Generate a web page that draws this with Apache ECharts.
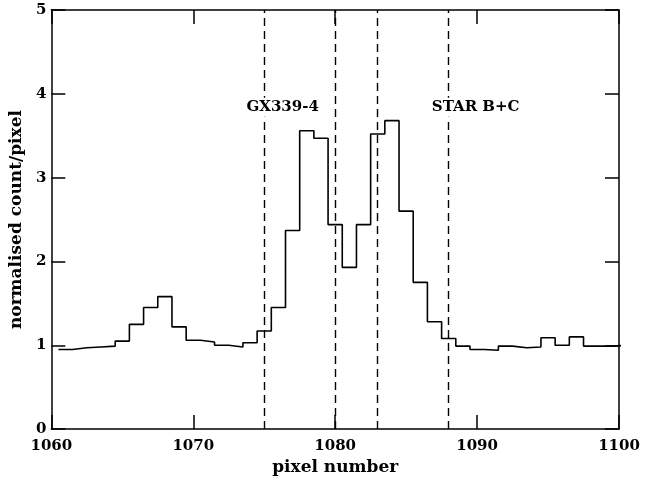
<!DOCTYPE html>
<html><head><meta charset="utf-8">
<script src="https://cdn.jsdelivr.net/npm/echarts@6/dist/echarts.min.js"></script>
<style>html,body{margin:0;padding:0;background:#fff}#c{width:658px;height:481px}</style>
</head><body><div id="c"></div>
<script>
// Bin centres (pixel number) and normalised counts
var binCentres = [1061,1062,1063,1064,1065,1066,1067,1068,1069,1070,
                  1071,1072,1073,1074,1075,1076,1077,1078,1079,1080,
                  1081,1082,1083,1084,1085,1086,1087,1088,1089,1090,
                  1091,1092,1093,1094,1095,1096,1097,1098,1099,1100];
var counts = [0.95,0.97,0.98,0.99,1.05,1.25,1.45,1.58,1.22,1.06,
              1.04,1.00,0.98,1.03,1.17,1.45,2.37,3.56,3.47,2.44,
              1.93,2.44,3.52,3.68,2.60,1.75,1.28,1.08,0.99,0.95,
              0.94,0.99,0.97,0.98,1.09,1.00,1.10,0.99,0.99,1.00];
var dashedLinesX = [1075,1080,1083,1088];
var annotations = [
  {name:'GX339-4', x:1076.3, y:3.84},
  {name:'STAR B+C', x:1089.9, y:3.84}
];
var xTicks = {min:1060, max:1100, interval:10};
var yTicks = {min:0, max:5, interval:1};

// build step outline: each bin from centre-0.5 to centre+0.5
var stepPts = [];
for (var i=0;i<binCentres.length;i++){ stepPts.push([binCentres[i]-0.5, counts[i]]); }
stepPts.push([binCentres[binCentres.length-1]+0.5, counts[counts.length-1]]);

var font = 'DejaVu Serif';
var axisLineStyle = {color:'#000', width:1.5};
function xAxisDef(pos, showLabel){
  return {type:'value', position:pos, min:xTicks.min, max:xTicks.max, interval:xTicks.interval,
    axisLine:{show:true, onZero:false, lineStyle:axisLineStyle},
    axisTick:{show:true, inside:true, length:14, lineStyle:{color:'#000', width:1.5}},
    splitLine:{show:false},
    axisLabel:{show:showLabel, color:'#000', fontFamily:font, fontSize:15, fontWeight:'bold', margin:10,
      formatter:function(v){return String(v);}},
    name: showLabel ? 'pixel number' : '', nameLocation:'middle', nameGap:27,
    nameTextStyle:{color:'#000', fontFamily:font, fontSize:17, fontWeight:'bold'}};
}
function yAxisDef(pos, showLabel){
  return {type:'value', position:pos, min:yTicks.min, max:yTicks.max, interval:yTicks.interval,
    axisLine:{show:true, onZero:false, lineStyle:axisLineStyle},
    axisTick:{show:true, inside:true, length:14, lineStyle:{color:'#000', width:1.5}},
    splitLine:{show:false},
    axisLabel:{show:showLabel, color:'#000', fontFamily:font, fontSize:15, fontWeight:'bold', margin:5,
      formatter:function(v){return String(v);}},
    name: showLabel ? 'normalised count/pixel' : '', nameLocation:'middle', nameGap:19,
    nameTextStyle:{color:'#000', fontFamily:font, fontSize:17, fontWeight:'bold'}};
}

var chart = echarts.init(document.getElementById('c'), null, {renderer:'canvas'});
chart.setOption({
  animation:false,
  backgroundColor:'#fff',
  grid:{left:51, right:39, top:10, bottom:47, containLabel:false},
  xAxis:[xAxisDef('bottom', true), xAxisDef('top', false)],
  yAxis:[yAxisDef('left', true), yAxisDef('right', false)],
  series:[
    {type:'line', xAxisIndex:0, yAxisIndex:0, data:stepPts, step:'end', showSymbol:false,
      lineStyle:{color:'#000', width:1.6}, clip:true, z:2,
      markLine:{silent:true, symbol:['none','none'], animation:false,
        label:{show:false},
        lineStyle:{color:'#000', type:[8,5], width:1.4},
        data: dashedLinesX.map(function(v){return {xAxis:v};})}
    },
    {type:'scatter', xAxisIndex:0, yAxisIndex:0, symbolSize:0, z:10, silent:true,
      data: annotations.map(function(a){return {name:a.name, value:[a.x,a.y]};}),
      label:{show:true, position:'inside', formatter:function(p){return p.name;},
        color:'#000', fontFamily:font, fontSize:15, fontWeight:'bold',
        backgroundColor:'#fff', padding:[2,1]},
      itemStyle:{opacity:1}
    }
  ]
});
</script></body></html>
